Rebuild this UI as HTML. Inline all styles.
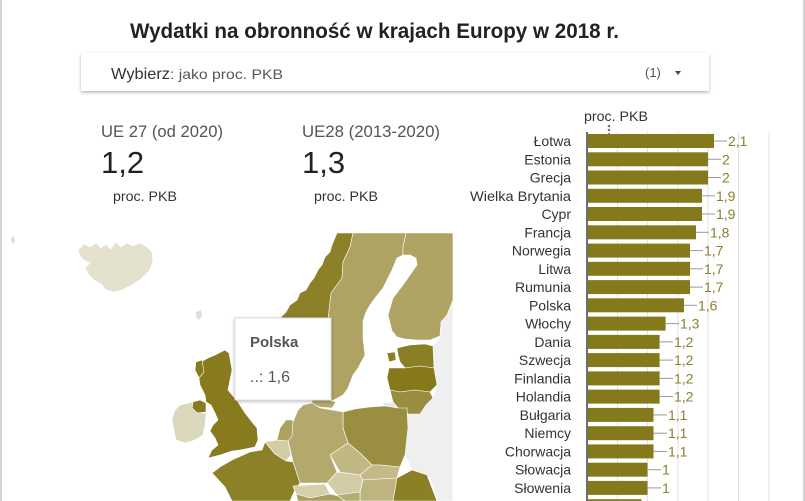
<!DOCTYPE html>
<html><head><meta charset="utf-8"><style>
html,body{margin:0;padding:0;background:#fff;}
svg{display:block;font-family:"Liberation Sans",Arial,sans-serif;}
</style></head><body>
<svg width="805" height="501" viewBox="0 0 805 501" xmlns="http://www.w3.org/2000/svg">
<defs>
<filter id="sh" x="-10%" y="-30%" width="120%" height="170%"><feDropShadow dx="0" dy="1.5" stdDeviation="1.5" flood-color="#000" flood-opacity="0.3"/></filter>
<filter id="sh2" x="-20%" y="-20%" width="140%" height="140%"><feDropShadow dx="0" dy="1" stdDeviation="1.5" flood-color="#000" flood-opacity="0.3"/></filter>
</defs>
<rect width="805" height="501" fill="#fff"/>
<rect x="0" y="0" width="2" height="501" fill="#d4d4d4"/>
<rect x="803" y="0" width="2" height="501" fill="#d4d4d4"/>

<!-- title -->
<text x="130" y="38" font-size="21" font-weight="bold" fill="#222" textLength="489" lengthAdjust="spacingAndGlyphs">Wydatki na obronność w krajach Europy w 2018 r.</text>

<!-- dropdown -->
<rect x="81" y="53" width="628" height="38" fill="#fff" filter="url(#sh)"/>
<text x="111" y="79" font-size="16" fill="#333" textLength="59" lengthAdjust="spacingAndGlyphs">Wybierz</text>
<text x="170" y="79" font-size="14" fill="#555" textLength="113" lengthAdjust="spacingAndGlyphs">: jako proc. PKB</text>
<text x="645" y="77" font-size="13" fill="#555">(1)</text>
<path d="M675 71 L681 71 L678 75 Z" fill="#444"/>

<!-- scorecards -->
<text x="101" y="137" font-size="16.5" fill="#555" textLength="122" lengthAdjust="spacingAndGlyphs">UE 27 (od 2020)</text>
<text x="101" y="173" font-size="31" fill="#222">1,2</text>
<text x="113" y="201" font-size="14" fill="#333" textLength="64" lengthAdjust="spacingAndGlyphs">proc. PKB</text>
<text x="302" y="137" font-size="16.5" fill="#555" textLength="138" lengthAdjust="spacingAndGlyphs">UE28 (2013-2020)</text>
<text x="302" y="173" font-size="31" fill="#222">1,3</text>
<text x="314" y="201" font-size="14" fill="#333" textLength="64" lengthAdjust="spacingAndGlyphs">proc. PKB</text>

<!-- MAP -->
<g stroke="#fff" stroke-width="0.6" stroke-linejoin="round">
<!-- specks -->
<path d="M11 238 L14 236 L15 241 L12 244 Z" fill="#dcdcdc" stroke="none"/>
<path d="M196 312 L201 310 L202 316 L199 320 L196 317 Z" fill="#dedede" stroke="none"/>
<!-- Iceland -->
<path d="M78 250 L84 244 L90 247 L96 243 L101 248 L106 244 L111 249 L116 242 L121 247 L127 243 L133 246 L140 243 L147 247 L152 252 L153 262 L149 271 L141 279 L132 285 L122 290 L114 292 L106 290 L101 284 L94 280 L89 275 L85 268 L90 263 L84 260 L80 256 Z" fill="#e4e1cf"/>
<!-- Russia / Belarus / Ukraine gray -->
<path d="M441 322 L453 300 L453 501 L437 501 L430 478 L412 470 L405 455 L408 428 L407 410 L415 404 L428 403 L433 398 L437 385 L434 368 L433 346 L440 338 Z" fill="#efefef"/>
<path d="M383 403 L395 402 L396 408 L385 409 Z" fill="#e8e8e8"/>
<!-- Norway -->
<path d="M337 233 L353 233 L350 247 L343 262 L342 278 L331 293 L328 320 L305 345 L276 332 L280 318 L286 312 L290 305 L297 300 L300 293 L306 290 L310 283 L314 278 L318 270 L322 265 L325 257 L330 252 L332 245 Z" fill="#8c8029"/>
<!-- Sweden -->
<path d="M353 233 L406 233 L403 247 L403 255 L397 258 L392 270 L383 288 L375 298 L370 305 L366 312 L363 321 L363 338 L365 355 L358 368 L353 375 L348 388 L343 395 L332 401 L328 390 L328 320 L331 293 L342 278 L343 262 L350 247 Z" fill="#aea362"/>
<!-- Finland -->
<path d="M406 233 L453 233 L453 300 L447 315 L441 322 L440 336 L430 340 L418 340 L405 339 L397 337 L392 331 L388 315 L393 298 L403 285 L410 275 L417 265 L416 258 L410 255 L403 255 L403 247 Z" fill="#afa463"/>
<!-- Estonia -->
<path d="M397 348 L410 345 L425 344 L433 346 L434 368 L420 366 L405 368 L400 362 L398 355 Z" fill="#8b7f26"/>
<path d="M387 353 L395 352 L396 360 L389 362 Z" fill="#8b7f26"/>
<!-- Latvia -->
<path d="M389 368 L405 368 L420 366 L434 368 L437 385 L430 392 L415 390 L400 392 L390 390 L387 378 Z" fill="#85791c"/>
<!-- Lithuania -->
<path d="M390 390 L400 392 L415 390 L430 392 L433 398 L426 405 L420 414 L408 414 L398 408 L393 402 Z" fill="#998e3f"/>
<!-- Poland -->
<path d="M343 412 L355 409 L370 407 L385 406 L398 408 L407 408 L408 428 L405 455 L400 467 L380 465 L372 465 L360 453 L348 443 L343 428 Z" fill="#9a8f40"/>
<!-- Denmark -->
<path d="M312 400 L325 399 L336 402 L332 408 L320 407 L312 404 Z" fill="#b2a86b"/>
<!-- Germany -->
<path d="M303 405 L312 403 L320 408 L332 410 L343 412 L343 428 L348 443 L330 455 L337 472 L327 483 L300 483 L293 462 L288 440 L293 422 L298 410 Z" fill="#b3a96c"/>
<!-- Netherlands -->
<path d="M293 420 L286 420 L280 428 L277 440 L288 441 L292 436 Z" fill="#aca15d"/>
<!-- Belgium -->
<path d="M265 442 L277 440 L288 441 L291 455 L286 461 L275 454 Z" fill="#d2cca6"/>
<!-- France -->
<path d="M232 460 L250 452 L262 450 L265 442 L275 454 L286 461 L293 462 L300 483 L295 490 L290 501 L232 501 L225 487 L212 473 L220 467 Z" fill="#8d8128"/>
<!-- Switzerland -->
<path d="M293 486 L325 484 L330 494 L310 498 L296 494 Z" fill="#d5d0ab"/>
<!-- Italy -->
<path d="M296 494 L310 498 L330 494 L338 496 L345 501 L298 501 Z" fill="#a99f5c"/>
<!-- Czech -->
<path d="M330 455 L348 443 L360 453 L372 465 L360 475 L340 472 Z" fill="#c0b783"/>
<!-- Austria -->
<path d="M337 472 L360 475 L363 480 L360 492 L337 495 L327 483 Z" fill="#d2cda7"/>
<!-- Slovakia -->
<path d="M372 465 L380 465 L400 467 L397 478 L363 480 L360 475 Z" fill="#c3ba88"/>
<!-- Hungary -->
<path d="M363 480 L397 478 L393 501 L360 501 L360 492 Z" fill="#bdb482"/>
<!-- Slovenia/Croatia -->
<path d="M337 495 L360 492 L360 501 L345 501 L338 496 Z" fill="#b6ad72"/>
<!-- Romania -->
<path d="M397 478 L412 470 L427 475 L437 501 L393 501 Z" fill="#8c8026"/>
<!-- UK -->
<path d="M225 350 L229 353 L232 370 L228 390 L238 402 L245 413 L252 422 L257 428 L258 440 L255 447 L240 450 L232 451 L220 455 L208 458 L212 450 L218 445 L215 438 L210 431 L213 425 L218 420 L215 413 L211 405 L206 402 L205 395 L200 385 L198 372 L201 362 L208 358 L215 355 Z" fill="#877b1e"/>
<path d="M196 362 L202 360 L204 372 L199 378 L195 370 Z" fill="#877b1e"/>
<!-- Northern Ireland -->
<path d="M193 402 L200 400 L206 403 L206 412 L197 413 L192 408 Z" fill="#877b1e"/>
<!-- Ireland -->
<path d="M180 405 L193 402 L192 408 L197 413 L206 413 L205 425 L203 435 L195 440 L185 443 L176 440 L174 430 L172 420 L175 410 Z" fill="#dbd8be"/>
</g>

<!-- tooltip -->
<rect x="235" y="318" width="96" height="82" fill="#fff" stroke="#e0e0e0" stroke-width="1" filter="url(#sh2)"/>
<text x="250" y="347" font-size="15" font-weight="bold" fill="#555">Polska</text>
<text x="250" y="382" font-size="16" fill="#555">..: 1,6</text>

<!-- BAR CHART -->
<text x="584" y="121" font-size="14" fill="#333" textLength="64" lengthAdjust="spacingAndGlyphs">proc. PKB</text>
<g stroke="#e2e2e2" stroke-width="1">
<line x1="617.5" y1="132" x2="617.5" y2="501"/>
<line x1="647.5" y1="132" x2="647.5" y2="501"/>
<line x1="678" y1="132" x2="678" y2="501"/>
<line x1="708" y1="132" x2="708" y2="501"/>
<line x1="738.5" y1="132" x2="738.5" y2="501"/>
<line x1="769" y1="132" x2="769" y2="501"/>
</g>

<g fill="#847a1c">
<rect x="588" y="134" width="126" height="14"/>
<rect x="588" y="152.3" width="120" height="14"/>
<rect x="588" y="170.5" width="120" height="14"/>
<rect x="588" y="188.8" width="114" height="14"/>
<rect x="588" y="207" width="114" height="14"/>
<rect x="588" y="225.3" width="108" height="14"/>
<rect x="588" y="243.6" width="102" height="14"/>
<rect x="588" y="261.8" width="102" height="14"/>
<rect x="588" y="280.1" width="102" height="14"/>
<rect x="588" y="298.3" width="96" height="14"/>
<rect x="588" y="316.6" width="77.6" height="14"/>
<rect x="588" y="334.9" width="71.6" height="14"/>
<rect x="588" y="353.1" width="71.6" height="14"/>
<rect x="588" y="371.4" width="71.6" height="14"/>
<rect x="588" y="389.6" width="71.6" height="14"/>
<rect x="588" y="407.9" width="65.5" height="14"/>
<rect x="588" y="426.2" width="65.5" height="14"/>
<rect x="588" y="444.4" width="65.5" height="14"/>
<rect x="588" y="462.7" width="59.5" height="14"/>
<rect x="588" y="480.9" width="59.5" height="14"/>
<rect x="588" y="499.2" width="53.5" height="14"/>
</g>
<line x1="587" y1="132" x2="587" y2="501" stroke="#222" stroke-width="1.3"/>

<g stroke="#999" stroke-width="1">
<line x1="714" y1="141" x2="727" y2="141"/>
<line x1="708" y1="159.3" x2="721" y2="159.3"/>
<line x1="708" y1="177.5" x2="721" y2="177.5"/>
<line x1="702" y1="195.8" x2="715" y2="195.8"/>
<line x1="702" y1="214" x2="715" y2="214"/>
<line x1="696" y1="232.3" x2="709" y2="232.3"/>
<line x1="690" y1="250.6" x2="703" y2="250.6"/>
<line x1="690" y1="268.8" x2="703" y2="268.8"/>
<line x1="690" y1="287.1" x2="703" y2="287.1"/>
<line x1="684" y1="305.3" x2="697" y2="305.3"/>
<line x1="665.6" y1="323.6" x2="679" y2="323.6"/>
<line x1="659.6" y1="341.9" x2="673" y2="341.9"/>
<line x1="659.6" y1="360.1" x2="673" y2="360.1"/>
<line x1="659.6" y1="378.4" x2="673" y2="378.4"/>
<line x1="659.6" y1="396.6" x2="673" y2="396.6"/>
<line x1="653.5" y1="414.9" x2="667" y2="414.9"/>
<line x1="653.5" y1="433.2" x2="667" y2="433.2"/>
<line x1="653.5" y1="451.4" x2="667" y2="451.4"/>
<line x1="647.5" y1="469.7" x2="661" y2="469.7"/>
<line x1="647.5" y1="487.9" x2="661" y2="487.9"/>
</g>

<g font-size="14" fill="#8a7f2c">
<text x="728" y="146">2,1</text>
<text x="722" y="164.3">2</text>
<text x="722" y="182.5">2</text>
<text x="716" y="200.8">1,9</text>
<text x="716" y="219">1,9</text>
<text x="710" y="237.3">1,8</text>
<text x="704" y="255.6">1,7</text>
<text x="704" y="273.8">1,7</text>
<text x="704" y="292.1">1,7</text>
<text x="698" y="310.3">1,6</text>
<text x="680" y="328.6">1,3</text>
<text x="674" y="346.9">1,2</text>
<text x="674" y="365.1">1,2</text>
<text x="674" y="383.4">1,2</text>
<text x="674" y="401.6">1,2</text>
<text x="668" y="419.9">1,1</text>
<text x="668" y="438.2">1,1</text>
<text x="668" y="456.4">1,1</text>
<text x="662" y="474.7">1</text>
<text x="662" y="492.9">1</text>
</g>

<g font-size="14" fill="#333" text-anchor="end">
<text x="571" y="146">Łotwa</text>
<text x="571" y="164.3">Estonia</text>
<text x="571" y="182.5">Grecja</text>
<text x="571" y="200.8" textLength="101" lengthAdjust="spacingAndGlyphs">Wielka Brytania</text>
<text x="571" y="219">Cypr</text>
<text x="571" y="237.3">Francja</text>
<text x="571" y="255.6">Norwegia</text>
<text x="571" y="273.8">Litwa</text>
<text x="571" y="292.1">Rumunia</text>
<text x="571" y="310.3">Polska</text>
<text x="571" y="328.6">Włochy</text>
<text x="571" y="346.9">Dania</text>
<text x="571" y="365.1">Szwecja</text>
<text x="571" y="383.4">Finlandia</text>
<text x="571" y="401.6">Holandia</text>
<text x="571" y="419.9">Bułgaria</text>
<text x="571" y="438.2">Niemcy</text>
<text x="571" y="456.4">Chorwacja</text>
<text x="571" y="474.7">Słowacja</text>
<text x="571" y="492.9">Słowenia</text>
</g>

<!-- cursor dots -->
<g fill="#777">
<circle cx="609" cy="126" r="1.3"/>
<circle cx="609" cy="130" r="1.3"/>
<circle cx="609" cy="134" r="1.1"/>
</g>
</svg>
</body></html>
